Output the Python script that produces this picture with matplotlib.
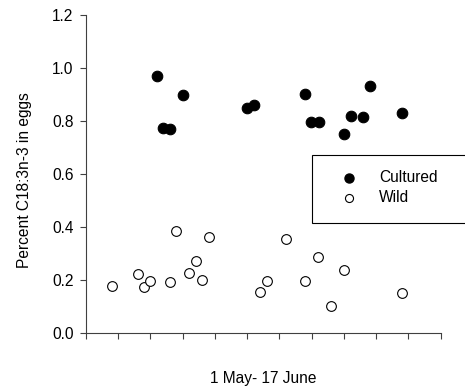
import matplotlib
matplotlib.use("Agg")
import matplotlib.pyplot as plt
from matplotlib.patches import Rectangle
from matplotlib.lines import Line2D

plt.rcParams['font.family'] = ['Liberation Sans', 'DejaVu Sans']

cultured_x = [2.20, 2.38, 2.61, 3.00, 4.98, 5.20, 6.80, 6.99, 7.22, 8.00, 8.21, 8.60, 8.81, 9.80]
cultured_y = [0.970, 0.775, 0.771, 0.899, 0.850, 0.861, 0.901, 0.795, 0.797, 0.752, 0.819, 0.815, 0.933, 0.831]
wild_x = [0.80, 1.60, 1.79, 1.99, 2.59, 2.80, 3.19, 3.40, 3.61, 3.80, 5.40, 5.61, 6.20, 6.80, 7.21, 7.61, 8.00, 9.80]
wild_y = [0.179, 0.221, 0.175, 0.195, 0.192, 0.386, 0.228, 0.273, 0.201, 0.361, 0.155, 0.197, 0.356, 0.197, 0.288, 0.103, 0.238, 0.150]
y_ticks = [0.0, 0.2, 0.4, 0.6, 0.8, 1.0, 1.2]
y_ticklabels = ["0.0", "0.2", "0.4", "0.6", "0.8", "1.0", "1.2"]
x_ticks = list(range(0, 12))

FS = 11.2

fig = plt.figure(figsize=(4.65, 3.91), dpi=100)
ax = fig.add_axes([86/465, (391-333)/391, (440.7-86)/465, (333-15)/391])

ax.plot(cultured_x, cultured_y, 'o', color='black', markersize=7.6, markeredgewidth=0.8, linestyle='none', clip_on=False)
ax.plot(wild_x, wild_y, 'o', markerfacecolor='white', markeredgecolor='black', markersize=7.0, markeredgewidth=0.8, linestyle='none', clip_on=False)

ax.set_xlim(0, 11)
ax.set_ylim(0, 1.2)
ax.set_yticks(y_ticks)
ax.set_yticklabels(y_ticklabels)
ax.set_xticks(x_ticks)
ax.set_xticklabels([])
for s in ['top', 'right']:
    ax.spines[s].set_visible(False)
for s in ['left', 'bottom']:
    ax.spines[s].set_color('#404040')
    ax.spines[s].set_linewidth(0.8)
ax.tick_params(axis='both', direction='out', length=4, width=0.8, color='#404040', labelsize=FS, pad=5)

def fx(px):
    return px / 465
def fy(py):
    return (391 - py) / 391

fig.text(fx(24), fy(180), 'Percent C18:3n-3 in eggs', fontsize=FS, rotation=90, ha='center', va='center')
fig.text(fx(263), fy(379), '1 May- 17 June', fontsize=FS, ha='center', va='center')

# legend box (extends past right edge of the figure)
fig.patches.append(Rectangle((fx(311.7), fy(223)), fx(480) - fx(311.7), fy(155) - fy(223),
                             transform=fig.transFigure, facecolor='white', edgecolor='black',
                             linewidth=0.8, clip_on=False))
fig.lines.append(Line2D([fx(349)], [fy(178)], marker='o', color='black', markersize=6.5,
                        transform=fig.transFigure, linestyle='none'))
fig.lines.append(Line2D([fx(349)], [fy(198)], marker='o', markerfacecolor='white', markeredgecolor='black',
                        markersize=5.8, markeredgewidth=0.8, transform=fig.transFigure, linestyle='none'))
fig.text(fx(379), fy(178), 'Cultured', fontsize=FS, va='center', ha='left')
fig.text(fx(379), fy(198), 'Wild', fontsize=FS, va='center', ha='left')

fig.savefig('out.png', dpi=100)
